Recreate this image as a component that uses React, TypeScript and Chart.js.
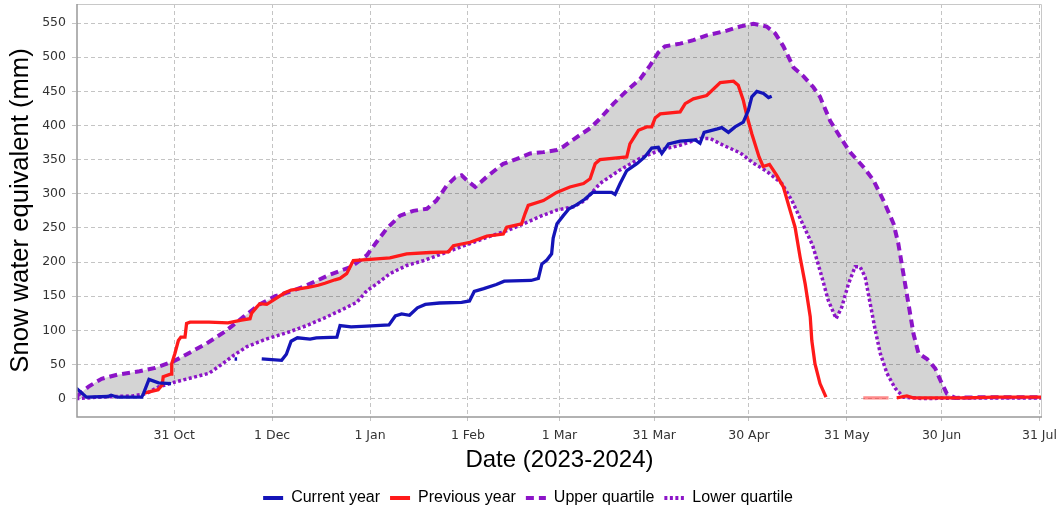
import React, { useEffect, useRef } from "react";
import { Chart, registerables } from "chart.js";

Chart.register(...registerables);

// x values are days since 1 Oct 2023
const xTickDays = [30, 61, 92, 123, 152, 182, 212, 243, 273, 304];
const xTickLabels = ["31 Oct", "1 Dec", "1 Jan", "1 Feb", "1 Mar", "31 Mar", "30 Apr", "31 May", "30 Jun", "31 Jul"];
const yTickValues = [0, 50, 100, 150, 200, 250, 300, 350, 400, 450, 500, 550];

const seriesNames = ["Current year", "Previous year", "Upper quartile", "Lower quartile"];

const currentDays = [
  -1, 2.2, 9, 10, 12, 19.7, 20.3, 22, 25, 29, 30,
  49.1, 49.9, 50,
  57.7, 64, 65.5, 67, 69, 73, 75, 81.5, 82.5, 86, 91, 98, 100, 102, 104.5, 107, 109.5, 114, 121, 123.5,
  125, 128, 132, 134.5, 143, 145.3, 146.4, 148, 149.5, 150, 151.2, 153.2, 155, 157.5, 160, 162.5,
  168.5, 169.6, 171.2, 173.3, 176.5, 179, 181.2, 183.3, 184.4, 186.5, 190.2, 195, 196.5, 197.8, 202,
  203.4, 205.5, 207.6, 210.2, 211.8, 212.9, 214.5, 216.6, 218.2, 219.2,
];
const currentValues = [
  15, 2, 3, 5, 2, 2, 8, 28, 23, 22, null,
  58, 58, null,
  58, 56, 65, 84, 89, 87, 89, 90, 107, 105, 106, 108, 121, 124, 122, 133, 138, 140, 141, 143,
  157, 161, 167, 172, 173, 176, 197, 203, 212, 235, 256, 268, 278, 284, 292, 302,
  302, 299, 315, 334, 344, 354, 367, 368, 359, 373, 377, 379, 374, 390, 395,
  397, 390, 398, 405, 422, 442, 450, 447, 441, 443,
];

const previousDays = [
  20.5, 24.9, 26.2, 26.5, 29, 29.2, 30.2, 31.3, 32.1, 33.4, 33.9, 35, 41, 47, 51.3, 54, 54.5, 56.1, 57.1,
  59.3, 62, 65, 67, 72.4, 75.6, 77.7, 80.9, 82.5, 84.6, 86.7, 92, 98.3, 103.6, 111, 116.8, 118.4, 123.7,
  129, 134.2, 135.3, 140, 141.1, 142.1, 146.9, 151.1, 155.3, 159.6, 161.7, 163.3, 164.8, 173.3, 174.3,
  177, 179.6, 181.2, 182.3, 183.9, 190.2, 191.8, 194.4, 198.6, 200.2, 202.9, 207.1, 208.6, 210.2, 211.3,
  212.9, 215.2, 216.5, 218.5, 220.8, 222.9, 225, 226.6, 228.2, 229.8, 231.4, 231.9, 232.9, 234.5, 236.4,
  240,
  248.2, 256.2, 257,
  258.8, 262, 264, 270, 280, 290, 300, 304.8,
];
const previousValues = [
  8, 13, 20, 32, 36, 51, 66, 85, 90, 90, 110, 112, 112, 111, 115, 117, 125, 134, 139,
  138, 146, 155, 159, 163, 166, 169, 174, 176, 183, 202, 204, 206, 212, 214, 215, 224, 229,
  238, 241, 251, 256, 271, 283, 290, 302, 310, 315, 322, 344, 350, 354, 373,
  393, 398, 398, 411, 417, 420, 432, 439, 444, 451, 463, 465, 459, 437, 415,
  388, 354, 340, 343, 327, 310, 276, 251, 207, 168, 120, 85, 51, 22, 2,
  null,
  1, 1, null,
  1, 4, 1, 1, 1, 2, 2, 2,
];

const upperDays = [
  -1, 3, 7, 12, 19, 24, 30, 34, 40, 46, 52, 57, 62, 67, 72, 79, 86, 91, 94, 97.3, 101.5, 105.7, 110,
  113, 116.3, 119, 121, 122.6, 125.3, 129, 134.2, 138.5, 142.7, 146.9, 151.1, 153.2, 157.5, 161.7,
  164.8, 169.1, 173.3, 177.5, 180.7, 183.3, 185.4, 190.2, 194.4, 198.6, 205, 209.2, 213.4, 217.6,
  220.3, 222.9, 226.1, 229.3, 232.4, 234.5, 237.7, 240.9, 244, 248.3, 251.4, 254.6, 257.8, 259.3,
  260.9, 262.5, 264.1, 265.7, 268.4, 271, 272.6, 274.7, 277.3, 285, 295, 304.8,
];
const upperValues = [
  3, 18, 29, 35, 40, 45, 55, 65, 80, 98, 120, 138, 150, 157, 166, 181, 193, 210, 229, 249, 268, 275, 278,
  290, 312, 324, 327, 320, 310, 325, 344, 351, 359, 361, 364, 369, 383, 396,
  410, 432, 451, 468, 488, 507, 516, 520, 525, 532, 539, 545, 549, 545,
  535, 516, 485, 472, 456, 442, 407, 383, 361, 339, 320, 290, 256, 227,
  183, 139, 95, 66, 58, 44, 27, 7, 1, 2, 2, 2,
];

const lowerDays = [
  -1, 6, 17, 21, 25, 30, 36, 41, 45, 49, 53, 59, 66, 72, 78, 83.5, 87.8, 91, 94.1, 98.3, 103.6, 108.9,
  114.2, 119.5, 124.8, 130.1, 135.4, 140.6, 145.9, 151.1, 156.4, 160, 164.8, 171.2, 177.5, 183.8, 190.2,
  196.5, 199.7, 203.9, 209.2, 213.4, 217.6, 222.4, 225.6, 228.8, 232.2, 235.1, 237.1, 239.6, 241.4,
  243.5, 245.6, 247.2, 248.8, 250.4, 252, 253.6, 255.7, 258.3, 261, 267.3, 280, 290, 304.8,
];
const lowerValues = [
  0, 2, 4, 7, 17, 24, 31, 37, 50, 64, 76, 87, 97, 107, 119, 131, 141, 158, 168, 183, 195, 202,
  211, 220, 229, 238, 246, 256, 267, 276, 281, 290, 315, 335, 352, 364, 371,
  381, 381, 371, 360, 345, 333, 315, 290, 258, 224, 178, 144, 117, 134,
  168, 193, 193, 178, 139, 100, 66, 37, 15, 2, 0, 1, 1, 1,
];

const toPoints = (days: number[], values: (number | null)[]) =>
  days.map((d, i) => ({ x: d, y: values[i] }));

const framePlugin = {
  id: "plotFrame",
  afterLayout(chart: any) {
    const lg = chart.legend;
    if (lg) {
      lg.left += 7;
      lg.right += 7;
    }
  },
  afterDatasetsDraw(chart: any) {
    const { ctx, chartArea } = chart;
    const { left, top, right, bottom } = chartArea;
    ctx.save();
    ctx.setLineDash([]);
    ctx.lineWidth = 1;
    ctx.strokeStyle = "#c8c8c8";
    ctx.beginPath();
    ctx.moveTo(left, top + 0.5);
    ctx.lineTo(right - 0.5, top + 0.5);
    ctx.lineTo(right - 0.5, bottom);
    ctx.stroke();
    ctx.lineWidth = 1.5;
    ctx.strokeStyle = "#999999";
    ctx.beginPath();
    ctx.moveTo(left, top);
    ctx.lineTo(left, bottom);
    ctx.lineTo(right, bottom);
    ctx.stroke();
    ctx.restore();
  },
};

export default function App() {
  const canvasRef = useRef<HTMLCanvasElement | null>(null);

  useEffect(() => {
    const canvas = canvasRef.current;
    if (!canvas) return;
    const titleFont = "'Liberation Sans', Arial, sans-serif";
    const tickFont = "'DejaVu Sans', Verdana, sans-serif";
    const gridColor = "#c4c4c4";
    const purple = "#8c14c8";
    const red = "#ff1a1a";

    const chart = new Chart(canvas, {
      type: "line",
      data: {
        datasets: [
          {
            label: seriesNames[0],
            data: toPoints(currentDays, currentValues),
            borderColor: "#1414b8",
            backgroundColor: "#1414b8",
            borderWidth: 3.3,
            pointRadius: 0,
            tension: 0,
            fill: false,
          },
          {
            label: seriesNames[1],
            data: toPoints(previousDays, previousValues),
            borderColor: red,
            backgroundColor: red,
            borderWidth: 3.3,
            pointRadius: 0,
            tension: 0,
            fill: false,
            segment: {
              borderColor: (c: any) =>
                c.p0.parsed.x >= 248 && c.p1.parsed.x <= 256.5 ? "rgba(255,26,26,0.5)" : red,
            },
          },
          {
            label: seriesNames[2],
            data: toPoints(upperDays, upperValues),
            borderColor: purple,
            backgroundColor: "rgba(0,0,0,0.17)",
            borderWidth: 4,
            borderDash: [8, 5],
            pointRadius: 0,
            tension: 0,
            fill: "+1",
          },
          {
            label: seriesNames[3],
            data: toPoints(lowerDays, lowerValues),
            borderColor: purple,
            backgroundColor: purple,
            borderWidth: 3.5,
            borderDash: [3, 2.5],
            pointRadius: 0,
            tension: 0,
            fill: false,
          },
        ],
      },
      options: {
        responsive: false,
        animation: false,
        layout: { padding: { top: 4, right: 19, bottom: -4, left: 0 } },
        plugins: {
          filler: { drawTime: "beforeDatasetsDraw" },
          tooltip: { enabled: false },
          legend: {
            position: "bottom",
            labels: {
              usePointStyle: true,
              pointStyle: "line",
              pointStyleWidth: 20,
              boxHeight: 16,
              padding: 10,
              color: "#000",
              font: { family: titleFont, size: 16 },
              generateLabels: (ch: any) =>
                ch.data.datasets.map((ds: any, i: number) => ({
                  text: ds.label,
                  fillStyle: ds.borderColor,
                  strokeStyle: ds.borderColor,
                  fontColor: "#000",
                  lineWidth: 4,
                  lineDash: ds.borderDash || [],
                  lineDashOffset: 0,
                  lineCap: "butt",
                  pointStyle: "line",
                  rotation: 0,
                  hidden: false,
                  datasetIndex: i,
                })),
            },
          },
        },
        scales: {
          x: {
            type: "linear",
            min: -0.8,
            max: 304.8,
            afterBuildTicks: (scale: any) => {
              scale.ticks = xTickDays.map((v) => ({ value: v }));
            },
            afterFit: (scale: any) => {
              scale.height = 63;
              scale.paddingLeft = 0;
              scale.paddingRight = 0;
            },
            ticks: {
              autoSkip: false,
              maxRotation: 0,
              padding: 6,
              color: "#333",
              font: { family: tickFont, size: 12.5 },
              callback: (value: any) => {
                const i = xTickDays.indexOf(Number(value));
                return i >= 0 ? xTickLabels[i] : "";
              },
            },
            grid: {
              color: gridColor,
              lineWidth: 1,
              tickLength: 5,
              tickColor: gridColor,
              tickBorderDash: [4, 3],
            },
            border: { display: false, dash: [4, 3] },
            title: {
              display: true,
              text: "Date (2023-2024)",
              color: "#000",
              font: { family: titleFont, size: 24 },
              padding: { top: 0, bottom: 5 },
            },
          },
          y: {
            type: "linear",
            min: -27,
            max: 578,
            afterBuildTicks: (scale: any) => {
              scale.ticks = yTickValues.map((v) => ({ value: v }));
            },
            afterFit: (scale: any) => {
              scale.width = 77;
              scale.paddingTop = 0;
              scale.paddingBottom = 0;
            },
            ticks: {
              padding: 6,
              color: "#333",
              font: { family: tickFont, size: 12.5 },
            },
            grid: {
              color: gridColor,
              lineWidth: 1,
              tickLength: 5,
              tickColor: gridColor,
              tickBorderDash: [4, 3],
            },
            border: { display: false, dash: [4, 3] },
            title: {
              display: true,
              text: "Snow water equivalent (mm)",
              color: "#000",
              font: { family: titleFont, size: 25.6 },
              padding: { top: 6, bottom: 0 },
            },
          },
        },
      },
      plugins: [framePlugin],
    });

    return () => {
      chart.destroy();
    };
  }, []);

  return (
    <div style={{ position: "absolute", left: 0, top: 0, width: 1061, height: 512, background: "#fff" }}>
      <canvas ref={canvasRef} width={1061} height={512} style={{ display: "block", width: 1061, height: 512 }} />
    </div>
  );
}
